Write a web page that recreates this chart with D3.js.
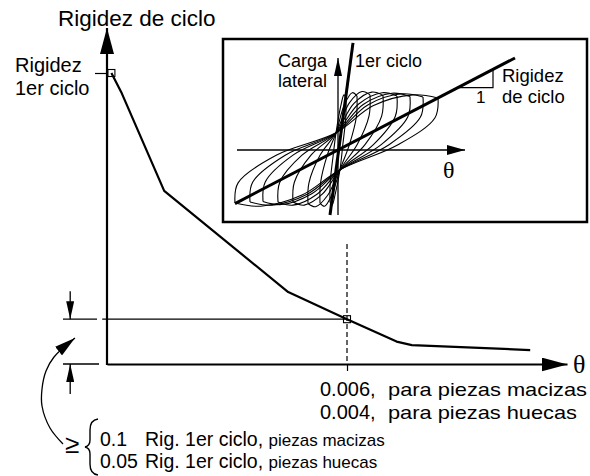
<!DOCTYPE html>
<html>
<head>
<meta charset="utf-8">
<script src="https://cdn.jsdelivr.net/npm/d3@7"></script>
<style>
  body { margin: 0; background: #fff; }
  svg text { font-family: "Liberation Sans", Arial, sans-serif; fill: #000; }
  .serif { font-family: "Liberation Serif", "Times New Roman", serif; }
</style>
</head>
<body>
<svg id="chart" width="590" height="476"></svg>
<script>
// main curve: drift (x 1e-3) vs cycle stiffness (fraction of 1st cycle)
const thetaVals = [0.11, 0.37, 1.43, 4.53, 6.0, 7.24, 7.62, 10.58];
const stiffVals = [1.0, 0.93, 0.595, 0.247, 0.154, 0.077, 0.065, 0.048];
const markerIdx = [0, 4];
const thetaLimit = 6.0;
const stiffLimit = 0.154;
const thetaLabels = ["0.006,", "0.004,"];
const thetaNotes = ["para piezas macizas", "para piezas huecas"];
const thetaNoteLen = [199, 189];
const minFactors = ["0.1", "0.05"];
const minNotes = ["piezas macizas", "piezas huecas"];

// inset hysteresis loops (normalised drift / lateral load)
const loopPosTheta = [0.08, 0.19, 0.32, 0.45, 0.59, 0.72, 0.85, 1.0];
const loopPosLoad = [1.0, 1.04, 1.06, 1.05, 1.04, 1.03, 1.02, 1.0];
const loopNegTheta = [-0.08, -0.18, -0.3, -0.45, -0.6, -0.75, -0.88, -1.03];
const loopNegLoad = [-1.0, -1.02, -1.03, -1.0, -1.0, -0.99, -1.0, -1.02];
const firstCycle = [[-0.08, -1.25], [0.15, 2.06]];
const cycleStiff = [[-1.03, -1.03], [1.77, 1.77]];

const svg = d3.select("#chart");

const defs = svg.append("defs");
function arrowMarker(id, len, half) {
  defs.append("marker")
    .attr("id", id)
    .attr("markerUnits", "userSpaceOnUse")
    .attr("viewBox", `0 ${-half} ${len} ${2 * half}`)
    .attr("refX", len).attr("refY", 0)
    .attr("markerWidth", len).attr("markerHeight", 2 * half)
    .attr("orient", "auto")
    .append("path")
    .attr("d", `M0,${-half}L${len},0L0,${half}Z`)
    .attr("fill", "#000");
}
arrowMarker("bigArrow", 26, 7);
arrowMarker("midArrow", 18, 5);
arrowMarker("curvArrow", 21, 5.5);
arrowMarker("smallArrow", 18, 4);

const x = d3.scaleLinear().domain([0, 11.5]).range([107, 567]);
const y = d3.scaleLinear().domain([0, 1]).range([364, 73]);

// axes
const xAxis = svg.append("g")
  .attr("transform", `translate(0,${y(0)})`)
  .call(d3.axisBottom(x).tickValues([thetaLimit]).tickSize(7).tickSizeOuter(0).tickFormat(""));
xAxis.select(".domain").attr("stroke-width", 2.2).attr("marker-end", "url(#bigArrow)");
xAxis.selectAll(".tick line").attr("stroke-width", 1.2);

const yAxis = svg.append("g")
  .attr("transform", `translate(${x(0)},0)`)
  .call(d3.axisLeft(y).tickValues([1]).tickSize(12).tickSizeOuter(0).tickFormat(""));
yAxis.select(".domain").remove();
yAxis.selectAll(".tick line").attr("stroke-width", 1.2);
svg.append("line")
  .attr("x1", x(0)).attr("x2", x(0))
  .attr("y1", y(0) + 1).attr("y2", y(1.155))
  .attr("stroke", "#000").attr("stroke-width", 2.2)
  .attr("marker-end", "url(#bigArrow)");

svg.append("text").attr("x", 58).attr("y", 26)
  .style("font-size", "22.5px").text("Rigidez de ciclo");
svg.append("text").attr("x", 573).attr("y", y(0) + 9).attr("class", "serif")
  .style("font-size", "26px").text("θ");

const firstLbl = svg.append("text").attr("x", 15).attr("y", 72).style("font-size", "20px");
firstLbl.append("tspan").text("Rigidez");
firstLbl.append("tspan").attr("x", 15).attr("dy", 23).text("1er ciclo");

// reference lines
svg.append("line")
  .attr("x1", x(thetaLimit)).attr("x2", x(thetaLimit))
  .attr("y1", y(0.412)).attr("y2", y(0))
  .attr("stroke", "#000").attr("stroke-width", 1.2).attr("stroke-dasharray", "5,3");
svg.append("line")
  .attr("x1", x(-0.12)).attr("x2", x(thetaLimit))
  .attr("y1", y(stiffLimit)).attr("y2", y(stiffLimit))
  .attr("stroke", "#000").attr("stroke-width", 1.3);

// dimension marks at left
[stiffLimit, 0].forEach(v => {
  svg.append("line")
    .attr("x1", x(-1.1)).attr("x2", x(v ? -0.25 : -0.2))
    .attr("y1", y(v)).attr("y2", y(v))
    .attr("stroke", "#000").attr("stroke-width", 1.3);
});
svg.append("line")
  .attr("x1", x(-0.92)).attr("x2", x(-0.92))
  .attr("y1", y(stiffLimit) - 28).attr("y2", y(stiffLimit))
  .attr("stroke", "#000").attr("stroke-width", 1.3).attr("marker-end", "url(#smallArrow)");
svg.append("line")
  .attr("x1", x(-0.92)).attr("x2", x(-0.92))
  .attr("y1", y(0) + 30).attr("y2", y(0))
  .attr("stroke", "#000").attr("stroke-width", 1.3).attr("marker-end", "url(#smallArrow)");

// curve
const line = d3.line().x((d, i) => x(thetaVals[i])).y(d => y(d));
svg.append("path")
  .datum(stiffVals)
  .attr("d", line)
  .attr("fill", "none").attr("stroke", "#000").attr("stroke-width", 2.2)
  .attr("stroke-linejoin", "round");

svg.selectAll(".mk")
  .data(markerIdx)
  .enter().append("rect")
  .attr("class", "mk")
  .attr("x", i => x(thetaVals[i]) - 3.5)
  .attr("y", i => y(stiffVals[i]) - 3.5)
  .attr("width", 7).attr("height", 7)
  .attr("fill", "none").attr("stroke", "#000").attr("stroke-width", 1.1);

// theta limit labels
thetaLabels.forEach((t, i) => {
  const by = 396 + i * 23;
  svg.append("text").attr("x", 320).attr("y", by).style("font-size", "20px").text(t);
  svg.append("text").attr("x", 388).attr("y", by).style("font-size", "19px")
    .attr("textLength", thetaNoteLen[i]).attr("lengthAdjust", "spacingAndGlyphs")
    .text(thetaNotes[i]);
});

// curved arrow + bracket note
svg.append("path")
  .attr("d", d3.line().curve(d3.curveCatmullRom)([[63, 444], [50, 428], [42, 406], [42, 389], [46, 371], [54, 357], [75, 338]]))
  .attr("fill", "none").attr("stroke", "#000").attr("stroke-width", 1.3)
  .attr("marker-end", "url(#curvArrow)");

svg.append("text").attr("x", 65).attr("y", 453).style("font-size", "26px").text("≥");
svg.append("path")
  .attr("d", "M98,419 Q90,420 90,430 L90,440 Q90,446 85,447 Q90,448 90,454 L90,464 Q90,474 98,475")
  .attr("fill", "none").attr("stroke", "#000").attr("stroke-width", 1.4);

minFactors.forEach((f, i) => {
  const tx = svg.append("text").attr("x", 100).attr("y", 446 + i * 22).style("font-size", "19.5px");
  tx.append("tspan").text(f);
  tx.append("tspan").attr("x", 145).text("Rig. 1er ciclo, ");
  tx.append("tspan").style("font-size", "17px").text(minNotes[i]);
});

// ---------- inset ----------
svg.append("rect")
  .attr("x", 223).attr("y", 39).attr("width", 364).attr("height", 183)
  .attr("fill", "#fff").attr("stroke", "#000").attr("stroke-width", 2.5);

const xi = d3.scaleLinear().domain([0, 1]).range([338, 438]);
const yi = d3.scaleLinear().domain([0, 1]).range([150, 98]);

svg.append("line")
  .attr("x1", xi(-1.01)).attr("x2", xi(1.27)).attr("y1", yi(0)).attr("y2", yi(0))
  .attr("stroke", "#000").attr("stroke-width", 1.3).attr("marker-end", "url(#midArrow)");
svg.append("line")
  .attr("x1", xi(0)).attr("x2", xi(0)).attr("y1", yi(-1.25)).attr("y2", yi(1.77))
  .attr("stroke", "#000").attr("stroke-width", 1.3).attr("marker-end", "url(#smallArrow)");

const branch = d3.line().x(d => xi(d[0])).y(d => yi(d[1])).curve(d3.curveCatmullRom);
const loops = svg.append("g").attr("fill", "none").attr("stroke", "#000").attr("stroke-width", 1.1);
loopPosTheta.forEach((ap, i) => {
  const bp = loopPosLoad[i], an = loopNegTheta[i], bn = loopNegLoad[i];
  const down = [[ap, bp], [ap * 0.97, bp * 0.62], [ap * 0.6, bp * 0.1], [0.02, -0.38],
                [an * 0.35, bn * 0.85], [an * 0.75, bn * 1.06], [an, bn]];
  const up = [[an, bn], [an * 0.97, bn * 0.62], [an * 0.6, bn * 0.1], [-0.02, 0.33],
              [ap * 0.35, bp * 0.85], [ap * 0.75, bp * 1.06], [ap, bp]];
  loops.append("path").attr("d", branch(down));
  loops.append("path").attr("d", branch(up));
});

svg.append("line")
  .attr("x1", xi(firstCycle[0][0])).attr("y1", yi(firstCycle[0][1]))
  .attr("x2", xi(firstCycle[1][0])).attr("y2", yi(firstCycle[1][1]))
  .attr("stroke", "#000").attr("stroke-width", 3);
svg.append("line")
  .attr("x1", xi(cycleStiff[0][0])).attr("y1", yi(cycleStiff[0][1]))
  .attr("x2", xi(cycleStiff[1][0])).attr("y2", yi(cycleStiff[1][1]))
  .attr("stroke", "#000").attr("stroke-width", 3);

svg.append("path")
  .attr("d", `M${xi(1.2)},${yi(1.2)}H${xi(1.55)}V${yi(1.55)}`)
  .attr("fill", "none").attr("stroke", "#000").attr("stroke-width", 1.2);

svg.append("text").attr("x", 476).attr("y", 103).style("font-size", "17px").text("1");
const cl = svg.append("text").attr("x", 327).attr("y", 67).attr("text-anchor", "end").style("font-size", "18px");
cl.append("tspan").text("Carga");
cl.append("tspan").attr("x", 327).attr("dy", 20).text("lateral");
svg.append("text").attr("x", 355).attr("y", 67).style("font-size", "18px").text("1er ciclo");
const rc = svg.append("text").attr("x", 502).attr("y", 82).style("font-size", "18.5px");
rc.append("tspan").text("Rigidez");
rc.append("tspan").attr("x", 502).attr("dy", 21).text("de ciclo");
svg.append("text").attr("x", 443).attr("y", 178).attr("class", "serif").style("font-size", "24px").text("θ");
</script>
</body>
</html>
